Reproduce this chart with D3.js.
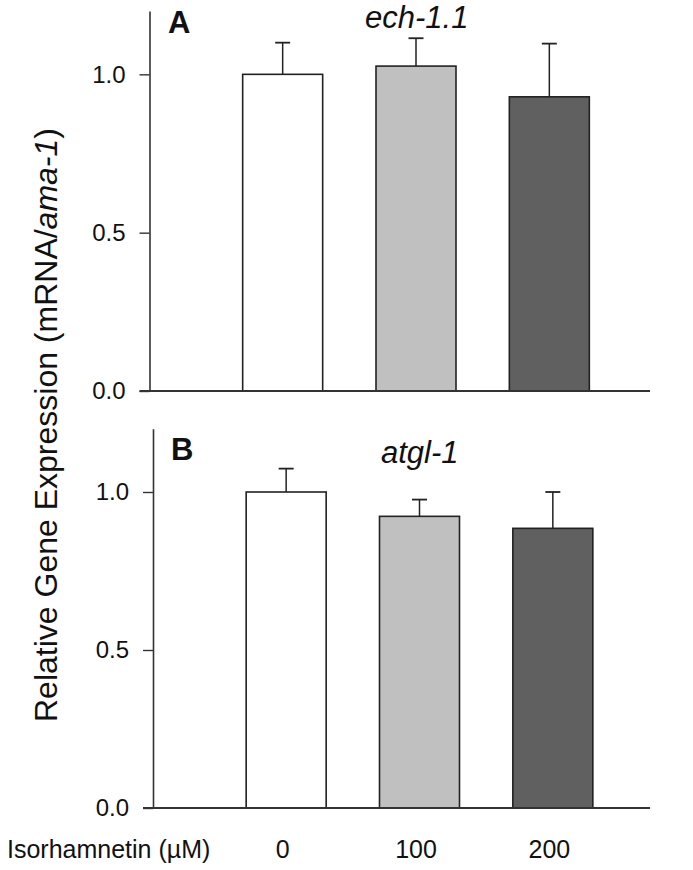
<!DOCTYPE html>
<html>
<head>
<meta charset="utf-8">
<script src="https://cdn.jsdelivr.net/npm/d3@7"></script>
<style>
  body { margin: 0; background: #fff; }
  text { font-family: Arial, "Liberation Sans", sans-serif; fill: #111; }
</style>
</head>
<body>
<svg width="693" height="870"></svg>
<script>
// isorhamnetin doses and relative expression (mean + upper SD)
var doses = ["0", "100", "200"];
var barColors = ["#ffffff", "#c0c0c0", "#606060"];
var echMean = [1.0, 1.026, 0.929];
var echErr = [0.100, 0.088, 0.168];
var atglMean = [1.0, 0.923, 0.885];
var atglErr = [0.074, 0.053, 0.115];
var yTicks = [0, 0.5, 1.0];

var svg = d3.select("svg");

var panels = [
    { letter: "A", gene: "ech-1.1", mean: echMean, err: echErr,
      axisX: 149.5, top: 11, bottom: 391, xr: [216, 616], geneX: 365, geneY: 28, letX: 168, letY: 33 },
    { letter: "B", gene: "atgl-1", mean: atglMean, err: atglErr,
      axisX: 153, top: 428.8, bottom: 808, xr: [219.5, 619.5], geneX: 381, geneY: 463, letX: 171, letY: 460 }
];

var xTop; // used for the dose labels under panel B

panels.forEach(function(p, pi) {
    var x = d3.scaleBand()
        .domain(doses)
        .range(p.xr)
        .paddingInner(0.4)
        .paddingOuter(0.2);
    if (pi == 0) xTop = x;

    var y = d3.scaleLinear()
        .domain([0, 1.2])
        .range([p.bottom, p.top]);

    var g = svg.append("g");

    // error bars (upper only)
    var eb = g.selectAll(".err")
        .data(doses)
        .enter().append("g")
        .attr("class", "err");
    eb.append("line")
        .attr("x1", function(d) { return x(d) + x.bandwidth() / 2; })
        .attr("x2", function(d) { return x(d) + x.bandwidth() / 2; })
        .attr("y1", function(d, i) { return y(p.mean[i]); })
        .attr("y2", function(d, i) { return y(p.mean[i] + p.err[i]); })
        .attr("stroke", "#222")
        .attr("stroke-width", 1.5);
    eb.append("line")
        .attr("x1", function(d) { return x(d) + x.bandwidth() / 2 - 7.5; })
        .attr("x2", function(d) { return x(d) + x.bandwidth() / 2 + 7.5; })
        .attr("y1", function(d, i) { return y(p.mean[i] + p.err[i]); })
        .attr("y2", function(d, i) { return y(p.mean[i] + p.err[i]); })
        .attr("stroke", "#222")
        .attr("stroke-width", 1.8);

    g.selectAll(".bar")
        .data(doses)
        .enter().append("rect")
        .attr("class", "bar")
        .attr("x", function(d) { return x(d); })
        .attr("y", function(d, i) { return y(p.mean[i]); })
        .attr("width", x.bandwidth())
        .attr("height", function(d, i) { return y(0) - y(p.mean[i]); })
        .style("fill", function(d, i) { return barColors[i]; })
        .attr("stroke", "#222")
        .attr("stroke-width", 1.6);

    // y axis
    var ya = g.append("g")
        .attr("transform", "translate(" + p.axisX + ",0)")
        .call(d3.axisLeft(y).tickValues(yTicks).tickFormat(d3.format(".1f"))
            .tickSize(10).tickSizeOuter(0).tickPadding(14));
    ya.select(".domain").attr("stroke", "#333").attr("stroke-width", 1.6);
    ya.selectAll(".tick line").attr("stroke", "#333").attr("stroke-width", 1.4);
    ya.selectAll(".tick text")
        .style("font-size", "24px")
        .style("font-family", "Arial, 'Liberation Sans', sans-serif")
        .attr("fill", "#111");

    // baseline
    g.append("line")
        .attr("x1", p.axisX - 10)
        .attr("x2", 650)
        .attr("y1", y(0))
        .attr("y2", y(0))
        .attr("stroke", "#333")
        .attr("stroke-width", 1.8);

    g.append("text")
        .attr("x", p.letX)
        .attr("y", p.letY)
        .style("font-size", "31px")
        .style("font-weight", "bold")
        .text(p.letter);

    g.append("text")
        .attr("x", p.geneX)
        .attr("y", p.geneY)
        .style("font-size", "31px")
        .style("font-style", "italic")
        .text(p.gene);
});

// dose labels
var xa = svg.append("g")
    .attr("transform", "translate(0,840)")
    .call(d3.axisBottom(xTop).tickSize(0).tickPadding(0));
xa.select(".domain").remove();
xa.selectAll(".tick text")
    .attr("dy", "0.71em")
    .style("font-size", "25px")
    .style("font-family", "Arial, 'Liberation Sans', sans-serif")
    .attr("fill", "#111");

svg.append("text")
    .attr("x", 7)
    .attr("y", 858)
    .style("font-size", "25px")
    .text("Isorhamnetin (\u00b5M)");

// y axis title
var yt = svg.append("text")
    .attr("transform", "translate(57,425) rotate(-90)")
    .attr("text-anchor", "middle")
    .style("font-size", "32px");
yt.append("tspan").text("Relative Gene Expression (mRNA/");
yt.append("tspan").style("font-style", "italic").text("ama-1");
yt.append("tspan").text(")");
</script>
</body>
</html>
